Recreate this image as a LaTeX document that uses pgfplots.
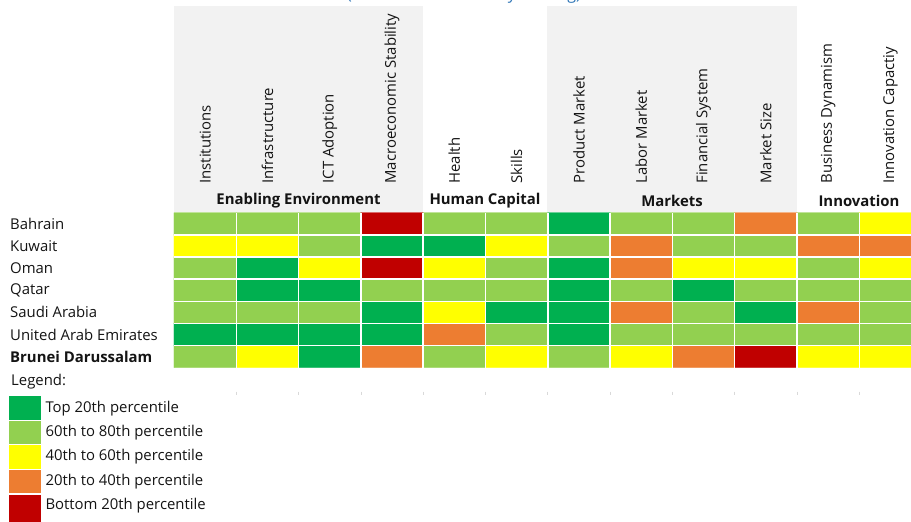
\documentclass[border=0pt]{standalone}
\usepackage{fontspec}
\setmainfont{Open Sans}
\usepackage{pgfplots}
\usepackage{pgfplotstable}
\pgfplotsset{compat=1.18}
\definecolor{qfive}{HTML}{00B050}
\definecolor{qfour}{HTML}{92D050}
\definecolor{qthree}{HTML}{FFFF00}
\definecolor{qtwo}{HTML}{ED7D31}
\definecolor{qone}{HTML}{C00000}
\definecolor{hdr}{HTML}{F2F2F2}
\definecolor{txt}{HTML}{141414}
\definecolor{ttl}{HTML}{2E75B6}
\newcommand\fs{\fontsize{14.9pt}{17.5pt}\selectfont}
% quintile: 5 = top 20th percentile ... 1 = bottom 20th percentile
% y: 6 = Bahrain, 5 = Kuwait, 4 = Oman, 3 = Qatar, 2 = Saudi Arabia, 1 = UAE, 0 = Brunei
\pgfplotstableread{
x y q
0 0 4
1 0 3
2 0 5
3 0 2
4 0 4
5 0 3
6 0 4
7 0 3
8 0 2
9 0 1
10 0 3
11 0 3
0 1 5
1 1 5
2 1 5
3 1 5
4 1 2
5 1 4
6 1 5
7 1 4
8 1 4
9 1 4
10 1 4
11 1 4
0 2 4
1 2 4
2 2 4
3 2 5
4 2 3
5 2 5
6 2 5
7 2 2
8 2 4
9 2 5
10 2 2
11 2 4
0 3 4
1 3 5
2 3 5
3 3 4
4 3 4
5 3 4
6 3 5
7 3 4
8 3 5
9 3 4
10 3 4
11 3 4
0 4 4
1 4 5
2 4 3
3 4 1
4 4 3
5 4 4
6 4 5
7 4 2
8 4 3
9 4 3
10 4 4
11 4 3
0 5 3
1 5 3
2 5 4
3 5 5
4 5 5
5 5 3
6 5 4
7 5 2
8 5 4
9 5 4
10 5 2
11 5 2
0 6 4
1 6 4
2 6 4
3 6 1
4 6 4
5 6 4
6 6 5
7 6 4
8 6 4
9 6 2
10 6 4
11 6 3
}\gcidata
\begin{document}
\begin{tikzpicture}[x=1pt,y=1pt]
\useasboundingbox (0,0) rectangle (911,-522);
\clip (0,0) rectangle (911,-522);
% header backgrounds
\fill[hdr] (174,-5.5) rectangle (423,-212);
\fill[hdr] (547,-5.5) rectangle (797,-212);
% title (cut off at the top, as in the reference)
\node[anchor=base, text=ttl, font=\fontsize{16pt}{19pt}\selectfont, inner sep=0pt] at (464,0.8) {(Relative to the GCC by ranking)};
\begin{axis}[
  at={(174pt,-367.7pt)}, anchor=south west,
  width=747.6pt, height=155pt, scale only axis,
  xmin=-0.5, xmax=11.5, ymin=-0.5, ymax=6.5,
  axis line style={draw=none},
  major tick length=0pt, minor tick length=0pt,
  xtick={0,...,11},
  xticklabels={Institutions,Infrastructure,ICT Adoption,Macroeconomic Stability,Health,Skills,Product Market,Labor Market,Financial System,Market Size,Business Dynamism,Innovation Capactiy},
  xticklabel pos=upper,
  xticklabel style={rotate=90, anchor=west, inner sep=0pt, font=\fs, text=txt},
  xticklabel shift=29pt,
  ytick={0,...,6},
  yticklabels={\textbf{Brunei Darussalam},United Arab Emirates,Saudi Arabia,Qatar,Oman,Kuwait,Bahrain},
  yticklabel style={anchor=west, inner sep=0pt, xshift=-164pt, font=\fs, text=txt},
  minor xtick={0.5,1.5,...,10.5},
  minor ytick={0.5,1.5,...,5.5},
  grid=minor,
  minor grid style={white, line width=1.5pt},
  axis on top,
  colormap={quint}{color=(qone) color=(qtwo) color=(qthree) color=(qfour) color=(qfive)},
  colormap access=direct,
]
\addplot[matrix plot*, mesh/cols=12, point meta=explicit] table[x=x, y=y, meta expr=\thisrow{q}-1] {\gcidata};
\end{axis}
% group labels
\node[font=\fs\bfseries, text=txt] at (298.5,-200.5) {Enabling Environment};
\node[font=\fs\bfseries, text=txt] at (485,-200.5) {Human Capital};
\node[font=\fs\bfseries, text=txt] at (672,-200.5) {Markets};
\node[font=\fs\bfseries, text=txt] at (859,-200.5) {Innovation};
% faint marks below the grid
\foreach \xx in {236.3,298.6,360.9,423.2,485.5,547.8,610.1,672.4,734.7,797,859.3}
  \draw[black!15, line width=0.8pt] (\xx,-391.5) -- (\xx,-395);
% legend
\node[anchor=west, inner sep=0pt, font=\fs, text=txt] at (11,-381.5) {Legend:};
\fill[qfive]  (8.7,-396)   rectangle (41.3,-419.5);
\fill[qfour]  (8.7,-420.7) rectangle (41.3,-443.5);
\fill[qthree] (8.7,-445.3) rectangle (41.3,-468.7);
\fill[qtwo]   (8.7,-470)   rectangle (41.3,-492.7);
\fill[qone]   (8.7,-494.7) rectangle (41.3,-522);
\node[anchor=west, inner sep=0pt, font=\fs, text=txt] at (45.3,-408.5) {Top 20th percentile};
\node[anchor=west, inner sep=0pt, font=\fs, text=txt] at (45.3,-432.5) {60th to 80th percentile};
\node[anchor=west, inner sep=0pt, font=\fs, text=txt] at (45.3,-457) {40th to 60th percentile};
\node[anchor=west, inner sep=0pt, font=\fs, text=txt] at (45.3,-481.5) {20th to 40th percentile};
\node[anchor=west, inner sep=0pt, font=\fs, text=txt] at (45.3,-506) {Bottom 20th percentile};
\end{tikzpicture}
\end{document}
